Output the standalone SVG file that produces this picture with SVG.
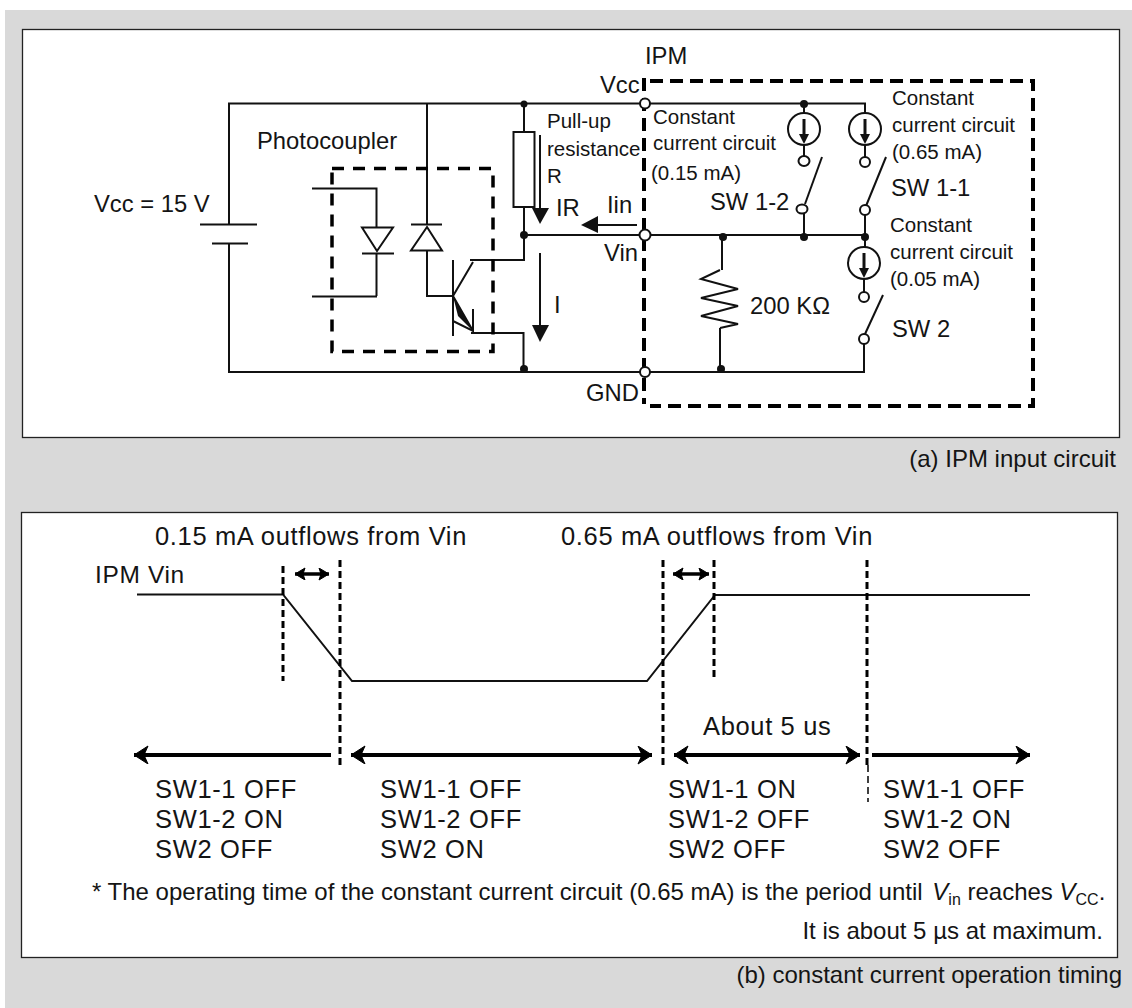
<svg xmlns="http://www.w3.org/2000/svg" width="1132" height="1008" viewBox="0 0 1132 1008">
<style>
text{font-family:"Liberation Sans",Arial,sans-serif;fill:#141414}
.s{font-size:20.500px}.m{font-size:23.800px}.l{font-size:25.500px;letter-spacing:.65px}.n{font-size:24px}
.w{fill:none;stroke:#111;stroke-width:2}
.a{fill:none;stroke:#111;stroke-width:3}
.o{fill:#fff;stroke:#111;stroke-width:2}
.d{fill:#111}
.f{fill:#111;stroke:none}
.box{fill:#fff;stroke:#222;stroke-width:1.300}
.db{fill:none;stroke:#000;stroke-width:3;stroke-dasharray:7 4}
.big{fill:none;stroke:#000;stroke-width:4}
.sm{fill:none;stroke:#000;stroke-width:3.500}
.dash{fill:none;stroke:#000;stroke-width:4;stroke-dasharray:13 7}
</style>
<defs>
<marker id="h" markerUnits="userSpaceOnUse" markerWidth="18" markerHeight="20" refX="15" refY="9" orient="auto-start-reverse"><path d="M1 0L15 9L1 18L5 9Z" fill="#000" stroke="#000"/></marker>
<marker id="hs" markerUnits="userSpaceOnUse" markerWidth="14" markerHeight="14" refX="11" refY="6" orient="auto-start-reverse"><path d="M1 0L11 6L1 12L3 6Z" fill="#000" stroke="#000"/></marker>
</defs>
<rect x="5" y="10" width="1127" height="998" fill="#d9d9d9"/>
<rect class="box" x="22.500" y="29.500" width="1097" height="408"/>
<rect class="box" x="21.500" y="512.500" width="1096" height="445"/>

<g id="connectors">
<path class="w" d="M229 224V103.500H640M229 243V372H640M650 103.500H865V113M524 103.500V132M524 207V260H470M473 262L453 296M427 103.500V224M427 250V296H453M453 296L473 331M471 333H523.500V372M524 235H640M650 235H865M650 372H864V344M804 104V113M804 145V156M804 214V237M865 145V157M865 215V247M864 279V292M722 237V270M720 328V372"/>
</g>

<g id="battery"><path class="w" d="M200 224.500H257M212 243.500H248"/><text class="m" x="94" y="212">Vcc = 15 V</text></g>

<g id="photocoupler">
<text class="m" x="257" y="149">Photocoupler</text>
<rect x="332" y="168.500" width="161" height="183" fill="none" stroke="#000" stroke-width="3.500" stroke-dasharray="12 9"/>
<path class="w" d="M312 188.500H376.500V228M376.500 253V296M312 296.500H377M362 253.500H394M411 224.500H442"/>
<path class="o" d="M362 227.500H393L377 251Z"/>
<path class="o" d="M427 227L442 250.500H411Z"/>
<path class="w" d="M453 260V336M473 309V331L453 321"/>
<path class="f" d="M453 296L473 331L458 316Z"/>
</g>

<g id="pullup"><rect class="o" x="513.500" y="132" width="21" height="75"/>
<text class="s" x="547" y="128">Pull-up</text><text class="s" x="547" y="156">resistance</text><text class="s" x="547" y="183">R</text></g>

<g id="ir-arrow"><path class="w" d="M540 135V210"/><path class="f" d="M532 208H549L540 224Z"/><text class="m" x="556" y="216">IR</text></g>
<g id="iin-arrow"><path class="w" d="M637 225H596"/><path class="f" d="M598 216V233L581 225Z"/><text class="m" x="607" y="213">Iin</text></g>
<g id="i-arrow"><path class="w" d="M540 253V327"/><path class="f" d="M532 325H549L540 342Z"/><text class="m" x="554" y="313">I</text></g>

<g id="ipm">
<text class="m" x="645" y="64">IPM</text>
<path class="dash" d="M650 81H1033V406H650"/>
<path class="dash" d="M644 78V404"/>
</g>

<g id="terminals">
<circle class="o" cx="645" cy="103.500" r="5"/><circle class="o" cx="645" cy="235" r="5.500"/><circle class="o" cx="645" cy="372" r="5"/>
<text class="m" x="600" y="93">Vcc</text><text class="m" x="604" y="261">Vin</text><text class="m" x="586" y="401">GND</text>
</g>

<g id="junctions">
<circle class="d" cx="524" cy="104" r="3.500"/><circle class="d" cx="524" cy="235" r="4"/><circle class="d" cx="524" cy="369" r="4"/>
<circle class="d" cx="804" cy="104" r="4"/><circle class="d" cx="804" cy="237" r="4"/><circle class="d" cx="723" cy="237" r="4"/>
<circle class="d" cx="865" cy="237" r="4"/><circle class="d" cx="721" cy="369" r="4"/>
</g>

<g id="source-015">
<circle class="w" cx="804" cy="129" r="16"/><path class="a" d="M804 119V136"/><path class="f" d="M799 134H809L804 144Z"/>
<ellipse class="o" cx="804" cy="161" rx="5.500" ry="5"/><path class="w" d="M822 157L805 204"/><ellipse class="o" cx="802" cy="209" rx="5.500" ry="4.500"/>
<text class="s" x="653" y="124">Constant</text><text class="s" x="653" y="150">current circuit</text><text class="s" x="651" y="180">(0.15 mA)</text>
<text class="m" x="710" y="210">SW 1-2</text>
</g>

<g id="source-065">
<circle class="w" cx="865" cy="129" r="16"/><path class="a" d="M865 119V136"/><path class="f" d="M860 134H870L865 144Z"/>
<circle class="o" cx="865" cy="162" r="5"/><path class="w" d="M886 157L866 206"/><circle class="o" cx="865" cy="210" r="5"/>
<text class="s" x="892" y="105">Constant</text><text class="s" x="892" y="132">current circuit</text><text class="s" x="892" y="159">(0.65 mA)</text>
<text class="m" x="891" y="196">SW 1-1</text>
</g>

<g id="source-005">
<circle class="w" cx="864" cy="263" r="16"/><path class="a" d="M864 253V270"/><path class="f" d="M859 268H869L864 278Z"/>
<circle class="o" cx="864" cy="297" r="5"/><path class="w" d="M883 295L865 334"/><circle class="o" cx="864" cy="339" r="5"/>
<text class="s" x="890" y="232">Constant</text><text class="s" x="890" y="259">current circuit</text><text class="s" x="890" y="286">(0.05 mA)</text>
<text class="m" x="892" y="337">SW 2</text>
</g>

<g id="resistor-200k">
<path class="w" d="M720 270L701 279L738 289L701 298L738 306L701 316L738 324L720 328"/>
<text class="m" x="750" y="314">200 KΩ</text>
</g>

<text class="n" x="1116" y="467" text-anchor="end">(a) IPM input circuit</text>

<g id="timing">
<path class="w" d="M137 594.500H283L352 681H647L715 595H1030"/>
<path class="db" d="M283 566V681M714 560V681"/>
<path class="db" d="M340 560V765M663 560V765M867 560V765"/>
<path d="M868 765V802" fill="none" stroke="#000" stroke-width="1.500" stroke-dasharray="7 4"/>
<path class="sm" d="M295 574H329" marker-start="url(#hs)" marker-end="url(#hs)"/>
<path class="sm" d="M673 574H709" marker-start="url(#hs)" marker-end="url(#hs)"/>
<path class="big" d="M134 755H331" marker-start="url(#h)"/>
<path class="big" d="M351 755H652" marker-start="url(#h)" marker-end="url(#h)"/>
<path class="big" d="M674 755H860" marker-start="url(#h)" marker-end="url(#h)"/>
<path class="big" d="M872 755H1030" marker-end="url(#h)"/>
<text class="l" x="155" y="545">0.15 mA outflows from Vin</text>
<text class="l" x="561" y="545">0.65 mA outflows from Vin</text>
<text class="l" x="95" y="583" style="font-size:24.500px">IPM Vin</text>
<text class="l" x="703" y="735">About 5 us</text>
<g id="state-1"><text class="l" x="155" y="798">SW1-1 OFF</text><text class="l" x="155" y="828">SW1-2 ON</text><text class="l" x="155" y="858">SW2 OFF</text></g>
<g id="state-2"><text class="l" x="380" y="798">SW1-1 OFF</text><text class="l" x="380" y="828">SW1-2 OFF</text><text class="l" x="380" y="858">SW2 ON</text></g>
<g id="state-3"><text class="l" x="668" y="798">SW1-1 ON</text><text class="l" x="668" y="828">SW1-2 OFF</text><text class="l" x="668" y="858">SW2 OFF</text></g>
<g id="state-4"><text class="l" x="883" y="798">SW1-1 OFF</text><text class="l" x="883" y="828">SW1-2 ON</text><text class="l" x="883" y="858">SW2 OFF</text></g>
</g>

<g id="note">
<text class="n" x="92" y="900">* The operating time of the constant current circuit (0.65 mA) is the period until <tspan font-style="italic" dx="3">V</tspan><tspan font-size="16" dy="5">in</tspan><tspan dy="-5"> reaches </tspan><tspan font-style="italic">V</tspan><tspan font-size="16" dy="5">CC</tspan><tspan dy="-5">.</tspan></text>
<text class="n" x="1103" y="939" text-anchor="end">It is about 5 µs at maximum.</text>
<text class="n" x="1122" y="983" text-anchor="end">(b) constant current operation timing</text>
</g>
</svg>
